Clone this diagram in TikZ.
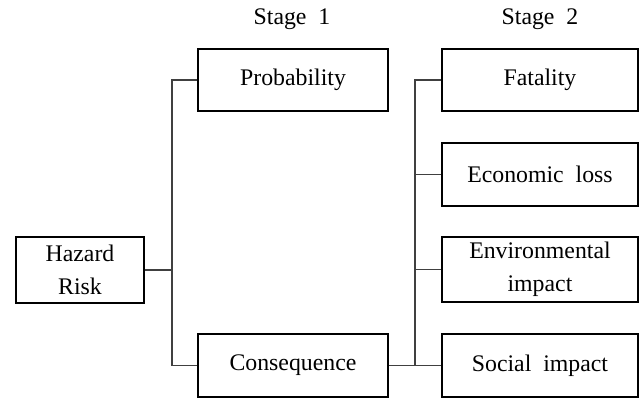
\documentclass[tikz,border=0pt]{standalone}
\usepackage{fontspec}
\setmainfont{Liberation Serif}
\begin{document}
\begin{tikzpicture}[x=0.5pt,y=-0.5pt,
  box/.style={draw=black, line width=0.65pt, inner sep=0pt, align=center,
    font=\fontsize{11.9}{16.6}\selectfont},
  lbl/.style={inner sep=0pt, font=\fontsize{11.9}{15}\selectfont},
  link/.style={draw=black!75, line width=0.6pt}]
\useasboundingbox (0,0) rectangle (639,399);
\node[lbl] (s1) at (292,19) {Stage\ \ 1};
\node[lbl] (s2) at (540,19) {Stage\ \ 2};
\node[box, minimum width=64pt, minimum height=33pt] (hazard) at (80,270) {Hazard\\Risk};
\node[box, minimum width=95pt, minimum height=31pt] (prob) at (293,80) {Probability};
\node[box, minimum width=95pt, minimum height=31.5pt] (cons) at (293,365.5) {Consequence};
\node[box, minimum width=98pt, minimum height=31pt] (fat) at (540,80) {Fatality};
\node[box, minimum width=98pt, minimum height=31.5pt] (eco) at (540,174.5) {Economic\ \ loss};
\node[box, minimum width=98pt, minimum height=32.5pt] (env) at (540,269.5) {Environmental\\impact};
\node[box, minimum width=98pt, minimum height=31.5pt] (soc) at (540,365.5) {Social\ \ impact};
\coordinate (b1) at (172,270);
\coordinate (b2) at (415,270);
\draw[link] (hazard.east) -- (b1);
\draw[link] (prob.west) -- (prob.west -| b1) -- (cons.west -| b1) -- (cons.west);
\draw[link] (fat.west) -- (fat.west -| b2) -- (soc.west -| b2) -- (soc.west);
\draw[link] (eco.west) -- (eco.west -| b2);
\draw[link] (env.west) -- (env.west -| b2);
\draw[link] (cons.east) -- (cons.east -| b2);
\end{tikzpicture}
\end{document}
